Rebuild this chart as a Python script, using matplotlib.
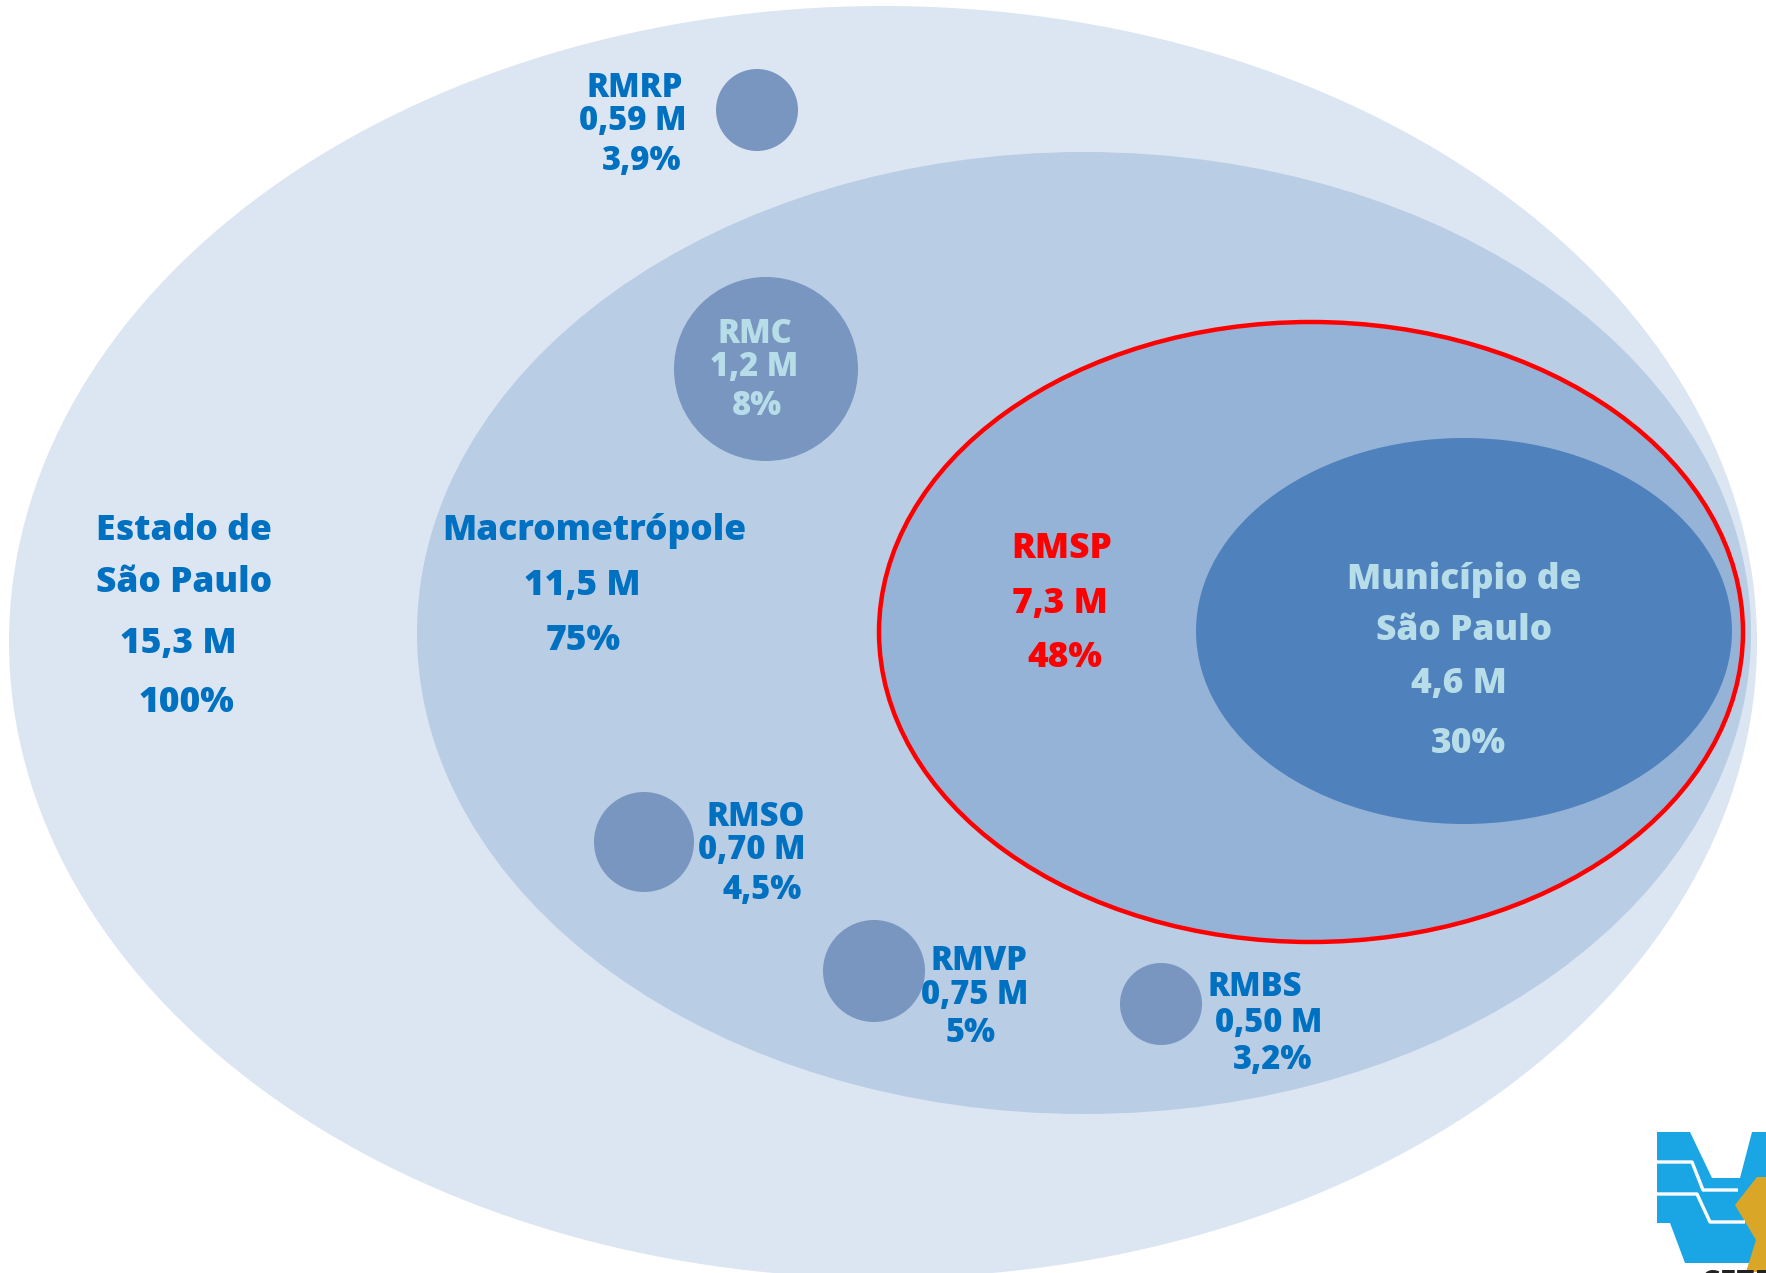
import matplotlib
matplotlib.use("Agg")
import matplotlib.pyplot as plt
from matplotlib.patches import Ellipse, Circle, Polygon

# ---- data ----
regions = ["Estado de\nSão Paulo", "Macrometrópole", "RMSP", "Município de\nSão Paulo"]
region_pop = ["15,3 M", "11,5 M", "7,3 M", "4,6 M"]
region_pct = ["100%", "75%", "48%", "30%"]

small = ["RMRP", "RMC", "RMSO", "RMVP", "RMBS"]
small_pop = ["0,59 M", "1,2 M", "0,70 M", "0,75 M", "0,50 M"]
small_pct = ["3,9%", "8%", "4,5%", "5%", "3,2%"]

# ---- layout (pixel space) ----
W, H = 1766, 1273
fig = plt.figure(figsize=(W / 100, H / 100), dpi=100)
ax = fig.add_axes([0, 0, 1, 1])
ax.set_xlim(0, W)
ax.set_ylim(H, 0)
ax.set_aspect("equal")
ax.axis("off")
plt.rcParams["font.family"] = ["Open Sans", "DejaVu Sans"]

ell_geo = [((883, 642), 1748, 1272), ((1084, 633), 1334, 962),
           ((1311, 632), 864, 620), ((1464, 631), 536, 386)]
ell_col = ["#dce6f2", "#b9cde5", "#95b3d7", "#4f81bd"]
for i, ((cx, cy), w, h) in enumerate(ell_geo):
    ax.add_patch(Ellipse((cx, cy), w, h, facecolor=ell_col[i], edgecolor="none", zorder=1 + i))
# red outline of RMSP
(cx, cy), w, h = ell_geo[2]
ax.add_patch(Ellipse((cx, cy), w, h, facecolor="none", edgecolor="#ff0000", lw=3.2, zorder=6))

circ_geo = [((757, 110), 41), ((766, 369), 92), ((644, 842), 50), ((874, 971), 51), ((1161, 1004), 41)]
for (cx, cy), r in circ_geo:
    ax.add_patch(Circle((cx, cy), r, facecolor="#7896c0", edgecolor="none", zorder=7))

BLUE = "#0070c0"
LIGHT = "#b7dee8"
RED = "#ff0000"
fs_big = 25.5
fs_small = 23.5
WT = "heavy"
DY = 4

big_txt = [
    ([(184, 527), (184, 579)], (178, 640), (186, 699), BLUE),
    ([(594, 527)], (582, 582), (583, 637), BLUE),
    ([(1062, 545)], (1060, 600), (1065, 654), RED),
    ([(1464, 576), (1464, 627)], (1459, 680), (1468, 740), LIGHT),
]
for i, (npos, ppos, qpos, col) in enumerate(big_txt):
    for line, (x, y) in zip(regions[i].split("\n"), npos):
        ax.text(x, y + DY, line, ha="center", va="center", fontsize=fs_big, fontweight=WT, color=col, zorder=10)
    ax.text(ppos[0], ppos[1] + DY, region_pop[i], ha="center", va="center", fontsize=fs_big, fontweight=WT,
            color=col, zorder=10)
    ax.text(qpos[0], qpos[1] + DY, region_pct[i], ha="center", va="center", fontsize=fs_big, fontweight=WT,
            color=col, zorder=10)

small_txt = [
    ((635, 84), (633, 117), (642, 157), BLUE),
    ((755, 330), (754, 363), (757, 402), LIGHT),
    ((756, 813), (752, 846), (762, 886), BLUE),
    ((979, 957), (975, 991), (971, 1029), BLUE),
    ((1255, 983), (1269, 1019), (1273, 1056), BLUE),
]
for i, (a, b, c, col) in enumerate(small_txt):
    for (x, y), s in zip((a, b, c), (small[i], small_pop[i], small_pct[i])):
        ax.text(x, y + DY, s, ha="center", va="center", fontsize=fs_small, fontweight=WT, color=col, zorder=10)

# ---- CETESB logo (approximate) ----
LB = "#1aa6e4"
ax.add_patch(Polygon([(1657, 1132), (1690, 1132), (1712, 1178), (1740, 1178), (1752, 1132), (1766, 1132),
                      (1766, 1230), (1750, 1263), (1685, 1263), (1670, 1223), (1657, 1223)],
                     closed=True, facecolor=LB, edgecolor="none", zorder=12))
ax.add_patch(Polygon([(1735, 1205), (1757, 1177), (1766, 1177), (1766, 1272), (1746, 1272), (1756, 1240)],
                     closed=True, facecolor="#d9a628", edgecolor="none", zorder=13))
ax.plot([1657, 1692, 1703, 1738], [1162, 1162, 1190, 1190], color="white", lw=2.4, zorder=14,
        solid_capstyle="butt")
ax.plot([1657, 1697, 1710, 1745], [1194, 1194, 1222, 1222], color="white", lw=2.4, zorder=14,
        solid_capstyle="butt")
ax.text(1700, 1284, "CETESB", ha="left", va="center", fontsize=22, fontweight="bold", color="#222222", zorder=15)

fig.savefig("out.png", dpi=100, facecolor="white")
